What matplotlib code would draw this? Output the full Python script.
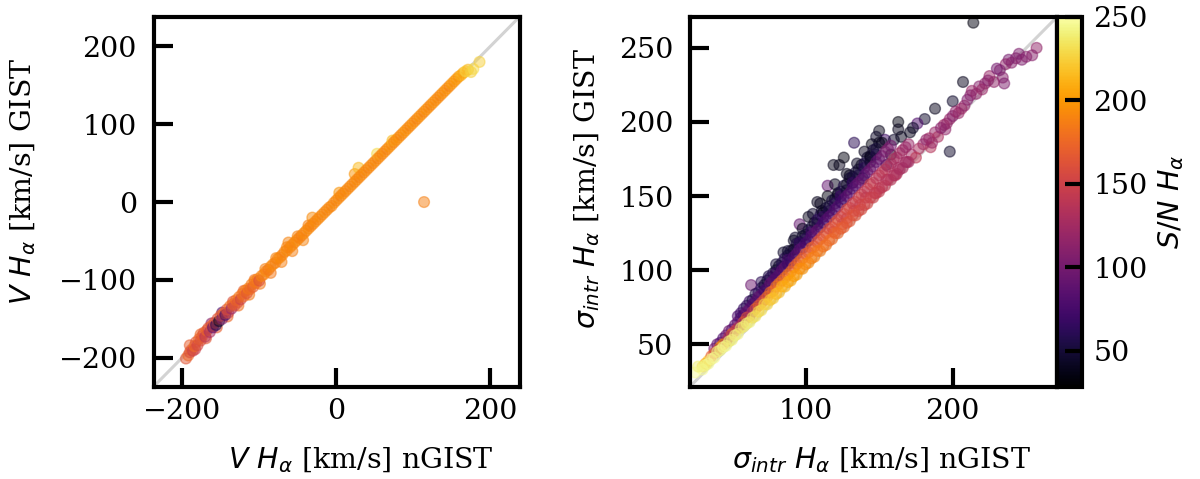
import numpy as np
import matplotlib
matplotlib.use('Agg')
import matplotlib.pyplot as plt
from matplotlib.colors import Normalize

plt.rcParams['font.family'] = ['DejaVu Serif']
plt.rcParams['mathtext.fontset'] = 'dejavusans'

# ---- left panel: V Halpha (nGIST vs GIST), colour = S/N
v_ngist = [-195, -192, -190, -188, -186, -184, -182, -180, -178, -176, -174, -172, -170, -168, -166,
           -164, -162, -160, -158, -156, -154, -152, -150, -148, -146, -144, -142, -140, -138, -136,
           -134, -132, -130, -128, -126, -124, -122, -120, -118, -116, -114, -112, -110, -108, -106,
           -104, -102, -100,
           -97, -94, -91, -88, -85, -82, -79, -76, -73, -70, -67, -64, -62, -60, -57, -54, -51, -48,
           -45, -42, -39, -36, -33, -31, -30, -27, -24, -21, -18, -15, -12, -9, -6, -3, 0, 3, 4, 6,
           9, 12, 15, 18, 21, 24, 24, 27, 29, 30, 33, 36, 39, 42, 45, 48, 51, 53, 54, 57, 60,
           63, 66, 69, 72, 73, 75, 78, 81, 84, 87, 90, 93, 96, 99, 102, 105, 108, 111, 114, 114,
           117, 120, 123, 126, 129, 132, 135, 138, 141, 144, 147, 150, 153, 156, 159, 162, 165,
           168, 171, 175, 178, 186]
v_gist = [-201, -197, -193, -190, -191, -185, -180, -184, -176, -178, -172, -168, -173, -165, -162,
          -167, -159, -161, -155, -158, -150, -153, -146, -150, -143, -145, -138, -142, -134, -137,
          -131, -133, -126, -129, -122, -125, -118, -121, -114, -117, -111, -112, -106, -109, -102,
          -104, -99, -101,
          -95, -93, -89, -87, -83, -80, -78, -73, -71, -68, -64, -62, -52, -58, -55, -52, -49, -46,
          -43, -40, -37, -34, -31, -20, -28, -25, -22, -19, -16, -13, -10, -7, -5, -1, 2, 5, 12, 8,
          11, 14, 17, 20, 23, 36, 26, 29, 44, 32, 35, 38, 41, 44, 47, 50, 53, 62, 56, 59, 62,
          65, 68, 71, 74, 79, 77, 80, 83, 86, 89, 92, 95, 98, 101, 104, 107, 110, 113, 116, 0,
          119, 122, 125, 128, 131, 134, 137, 140, 143, 146, 149, 152, 155, 158, 161, 163, 166,
          168, 170, 167, 171, 180]
v_sn = [165, 175, 160, 170, 150, 178, 165, 155, 175, 160, 170, 165, 140, 175, 160,
        130, 170, 90, 165, 60, 160, 45, 170, 110, 175, 75, 165, 150, 180, 120,
        175, 160, 180, 165, 185, 150, 180, 175, 185, 165, 188, 175, 185, 170, 188,
        180, 188, 160,
        190, 188, 192, 185, 190, 193, 188, 190, 193, 190, 188, 193, 190, 190, 193, 190, 193, 190,
        188, 193, 190, 193, 190, 193, 190, 193, 190, 193, 190, 193, 190, 193, 190, 193, 190, 193, 198, 190,
        193, 190, 193, 190, 193, 198, 190, 193, 215, 190, 193, 190, 193, 190, 193, 190, 193, 230, 190, 193, 190,
        193, 190, 196, 193, 215, 190, 193, 196, 190, 193, 196, 193, 190, 196, 193, 190, 196, 193, 190, 188,
        196, 193, 190, 196, 193, 193, 190, 196, 193, 196, 190, 200, 196, 200, 198, 210, 205,
        225, 215, 225, 230, 225]
# off-line points that thicken the lower half of the relation
v2_ngist = [-190, -183, -176, -169, -162, -155, -148, -141, -134, -127, -120, -113, -106, -99, -92,
            -85, -78, -71, -64, -57, -50, -43, -36]
v2_gist = [-184, -189, -170, -175, -156, -161, -142, -147, -128, -133, -114, -119, -100, -105, -86,
           -91, -72, -77, -58, -63, -44, -49, -30]
v2_sn = [170, 150, 175, 165, 110, 170, 80, 175, 160, 180, 170, 185, 180, 185, 188, 185, 190, 188, 190,
         188, 190, 190, 188]

# ---- right panel: sigma_intr Halpha, colour = S/N
# lower edge (high S/N)
sa_x = [30, 34, 38, 42, 46, 50, 54, 58, 62, 66, 70, 74, 78, 82, 86, 90, 94, 98, 102, 106, 110, 114,
        118, 122, 126, 130, 134, 138, 142, 146, 150, 154, 158, 162, 166, 170, 25, 27]
sa_y = [33, 37, 41, 46, 49, 53, 57, 62, 65, 69, 73, 77, 81, 85, 89, 93, 97, 101, 105, 109, 113, 117,
        121, 125, 129, 133, 137, 141, 145, 149, 153, 157, 161, 165, 169, 173, 31, 35]
sa_sn = [246, 244, 247, 242, 245, 240, 243, 238, 240, 235, 232, 228, 224, 218, 214, 208, 204, 198, 194,
         190, 186, 182, 178, 174, 170, 166, 162, 158, 154, 150, 146, 142, 138, 134, 130, 126, 248, 240]
sa2_x = [32, 36, 40, 44, 48, 52, 56, 60, 64, 68, 72, 76, 80, 84, 88, 92, 96, 100, 104, 108, 112, 116,
         120, 124, 128, 132, 136, 140, 144, 148, 152, 156, 160, 164, 168]
sa2_y = [36, 40, 45, 48, 52, 56, 61, 64, 68, 72, 77, 80, 84, 89, 92, 96, 101, 104, 108, 113, 116, 120,
         125, 128, 132, 137, 140, 144, 149, 152, 156, 161, 164, 168, 173]
sa2_sn = [243, 245, 241, 244, 239, 241, 237, 239, 233, 230, 226, 221, 216, 211, 206, 201, 196, 192, 188,
          184, 180, 176, 172, 168, 164, 160, 156, 152, 148, 144, 140, 136, 132, 128, 124]
# second row
sb_x = [30, 34, 38, 42, 46, 50, 54, 58, 62, 66, 70, 74, 78, 82, 86, 90, 94, 98, 102, 106, 110, 114,
        118, 122, 126, 130, 134, 138, 142, 146, 150, 154, 158, 162, 166, 170]
sb_y = [35, 39, 44, 48, 52, 57, 61, 65, 69, 74, 78, 82, 86, 91, 95, 99, 104, 108, 112, 116, 121, 125,
        129, 134, 138, 142, 146, 151, 155, 159, 164, 168, 172, 176, 181, 185]
sb_sn = [230, 220, 160, 200, 120, 180, 140, 170, 110, 175, 150, 180, 170, 185, 175, 180, 170, 175, 165,
         170, 160, 165, 155, 160, 150, 155, 145, 150, 140, 145, 135, 140, 130, 130, 125, 120]
sb2_x = [32, 36, 40, 44, 48, 52, 56, 60, 64, 68, 72, 76, 80, 84, 88, 92, 96, 100, 104, 108, 112, 116,
         120, 124, 128, 132, 136, 140, 144, 148, 152, 156, 160, 164, 168]
sb2_y = [37, 42, 46, 50, 55, 59, 63, 68, 72, 76, 80, 85, 89, 93, 97, 102, 106, 111, 115, 119, 123, 128,
         132, 136, 141, 145, 149, 153, 158, 162, 166, 170, 175, 179, 183]
sb2_sn = [210, 170, 140, 190, 130, 150, 120, 160, 130, 170, 160, 175, 180, 178, 182, 172, 176, 168, 172,
          162, 166, 158, 162, 152, 156, 148, 150, 142, 146, 138, 140, 132, 128, 125, 120]
# purple band
sc_x = [38, 42, 46, 50, 54, 58, 62, 66, 70, 74, 78, 82, 86, 90, 94, 98, 102, 106, 110, 114, 118, 122,
        126, 130, 134, 138, 142, 146, 150, 154, 158]
sc_y = [47, 51, 56, 60, 65, 70, 74, 79, 83, 88, 93, 97, 102, 106, 111, 115, 120, 125, 129, 134, 138,
        143, 148, 152, 157, 161, 166, 170, 175, 180, 184]
sc_sn = [100, 85, 95, 80, 90, 75, 85, 80, 90, 75, 85, 80, 90, 70, 85, 80, 75, 85, 70, 80, 75, 85, 80,
         90, 85, 95, 90, 100, 95, 105, 100]
sc2_x = [40, 44, 48, 52, 56, 60, 64, 68, 72, 76, 80, 84, 88, 92, 96, 100, 104, 108, 112, 116, 120, 124,
         128, 132, 136, 140, 144, 148, 152, 156]
sc2_y = [50, 54, 59, 63, 68, 72, 77, 82, 86, 91, 95, 100, 104, 109, 114, 118, 123, 127, 132, 136, 141,
         146, 150, 155, 159, 164, 168, 173, 177, 182]
sc2_sn = [90, 80, 95, 85, 75, 90, 80, 85, 75, 90, 80, 85, 70, 80, 85, 75, 80, 90, 75, 85, 80, 70, 85,
          80, 90, 85, 95, 90, 100, 105]
# between purple and dark band
scd_x = [80, 84, 88, 92, 96, 100, 104, 108, 112, 116, 120, 124, 128, 132, 136, 140, 144, 148]
scd_y = [98, 102, 107, 112, 118, 121, 126, 131, 136, 140, 145, 150, 154, 159, 164, 169, 173, 178]
scd_sn = [70, 60, 75, 55, 65, 60, 70, 50, 65, 55, 60, 70, 50, 65, 55, 60, 45, 55]
# dark upper band
sd_x = [54, 58, 62, 66, 70, 74, 78, 82, 86, 90, 94, 98, 102, 106, 110, 114, 118, 122, 126, 130, 134,
        138, 142, 146, 150]
sd_y = [69, 74, 79, 84, 88, 93, 98, 103, 108, 113, 118, 123, 127, 132, 137, 142, 147, 152, 157, 162,
        166, 171, 176, 181, 186]
sd_sn = [80, 65, 70, 55, 60, 50, 55, 45, 60, 50, 55, 45, 50, 40, 55, 45, 50, 40, 55, 45, 50, 40, 45,
         50, 40]
sd2_x = [56, 60, 64, 68, 72, 76, 80, 84, 88, 92, 96, 100, 104, 108, 112, 116, 120, 124, 128, 132, 136,
         140, 144, 148]
sd2_y = [71, 76, 80, 85, 90, 95, 100, 105, 110, 114, 119, 124, 129, 134, 139, 143, 148, 153, 158, 163,
         168, 172, 177, 182]
sd2_sn = [70, 60, 55, 65, 50, 60, 45, 55, 50, 40, 55, 45, 50, 60, 40, 50, 45, 55, 40, 50, 45, 55, 40, 50]
# scattered points above the relation
se_x = [214, 188, 181, 176, 173, 171, 163, 163, 150, 154, 133, 123, 119, 126, 144, 158, 155, 130, 139,
        132, 115, 122, 108, 111, 96, 102, 93, 88, 63, 198, 207, 200,
        110, 115, 120, 128, 135, 140, 145, 105, 98, 92, 85, 80, 75, 70, 148, 152, 160, 165]
se_y = [267, 209, 202, 199, 196, 193, 200, 195, 194, 188, 186, 171, 171, 176, 176, 178, 171, 164, 162,
        159, 157, 151, 146, 140, 131, 136, 122, 113, 90, 180, 227, 214,
        145, 150, 158, 165, 172, 180, 185, 138, 128, 120, 112, 104, 96, 92, 190, 186, 188, 190]
se_sn = [35, 40, 45, 80, 45, 40, 35, 40, 38, 70, 60, 40, 38, 35, 45, 35, 60, 40, 50, 85, 90, 40, 40,
         45, 90, 40, 45, 45, 95, 45, 40, 45,
         40, 35, 40, 38, 42, 40, 35, 45, 40, 42, 45, 50, 55, 60, 45, 38, 45, 40]
# upper right branch
sf_x = [257, 254, 247, 243, 238, 236, 234, 235, 225, 222, 218, 213, 206, 202, 198, 194, 195, 188, 184,
        180, 177, 172, 169, 163, 161, 155, 150, 147, 141, 137, 133, 128, 125, 119, 230, 210, 190, 185, 175,
        182, 186, 192, 196, 200, 204, 208, 212, 216, 220, 224, 228, 232, 240, 245, 250]
sf_y = [250, 245, 242, 243, 242, 239, 230, 226, 231, 226, 224, 221, 209, 207, 202, 198, 195, 193, 189,
        185, 182, 178, 173, 169, 164, 161, 155, 152, 149, 144, 140, 135, 131, 126, 236, 215, 190, 183, 176,
        188, 186, 196, 199, 204, 206, 211, 218, 219, 222, 228, 227, 235, 240, 246, 244]
sf_sn = [115, 110, 105, 110, 100, 115, 110, 105, 120, 115, 110, 120, 125, 115, 120, 125, 115, 120, 125,
         120, 130, 125, 130, 125, 135, 130, 135, 140, 135, 140, 145, 150, 155, 160, 100, 105, 130, 135, 140,
         115, 120, 110, 115, 110, 120, 115, 110, 115, 120, 110, 115, 105, 110, 105, 110]

sig_ngist = se_x + sd_x + sd2_x + scd_x + sc_x + sc2_x + sf_x + sb_x + sb2_x + sa_x + sa2_x
sig_gist = se_y + sd_y + sd2_y + scd_y + sc_y + sc2_y + sf_y + sb_y + sb2_y + sa_y + sa2_y
sig_sn = se_sn + sd_sn + sd2_sn + scd_sn + sc_sn + sc2_sn + sf_sn + sb_sn + sb2_sn + sa_sn + sa2_sn

norm = Normalize(vmin=28.4, vmax=250)
cmap = 'inferno'
fs = 20.5

fig = plt.figure(figsize=(12, 4.79), dpi=100)
ax1 = fig.add_axes([0.128, 0.193, 0.305, 0.772])
ax2 = fig.add_axes([0.575, 0.193, 0.306, 0.772])
cax = fig.add_axes([0.881, 0.193, 0.021, 0.772])

lim1 = (-237, 238)
ax1.plot(lim1, lim1, color='#d3d3d3', lw=2.2, zorder=0)
ax1.scatter(v2_ngist + v_ngist, v2_gist + v_gist, c=v2_sn + v_sn, cmap=cmap, norm=norm, s=60, alpha=0.5)
ax1.set_xlim(lim1)
ax1.set_ylim(lim1)
ax1.set_xticks([-200, 0, 200])
ax1.set_yticks([-200, -100, 0, 100, 200])
ax1.set_xlabel(r'$V\ H_\alpha$ [km/s] nGIST', fontsize=fs)
ax1.set_ylabel(r'$V\ H_\alpha$ [km/s] GIST', fontsize=fs)
ax1.xaxis.set_label_coords(0.566, -0.16)
ax1.yaxis.set_label_coords(-0.315, 0.554)

lim2 = (21.5, 271)
ax2.plot(lim2, lim2, color='#d3d3d3', lw=2.2, zorder=0)
sc = ax2.scatter(sig_ngist, sig_gist, c=sig_sn, cmap=cmap, norm=norm, s=60, alpha=0.5)
ax2.set_xlim(lim2)
ax2.set_ylim(lim2)
ax2.set_xticks([100, 200])
ax2.set_yticks([50, 100, 150, 200, 250])
ax2.set_xlabel(r'$\sigma_{intr}\ H_\alpha$ [km/s] nGIST', fontsize=fs)
ax2.set_ylabel(r'$\sigma_{intr}\ H_\alpha$ [km/s] GIST', fontsize=fs)
ax2.xaxis.set_label_coords(0.523, -0.16)
ax2.yaxis.set_label_coords(-0.24, 0.535)

for ax in (ax1, ax2):
    for sp in ax.spines.values():
        sp.set_linewidth(3)
    ax.tick_params(direction='in', length=13.5, width=3, labelsize=fs)
    ax.tick_params(axis='y', pad=12)
    ax.tick_params(axis='x', pad=8)

cb = fig.colorbar(sc, cax=cax)
cb.solids.set_alpha(1)
cb.set_ticks([50, 100, 150, 200, 250])
cb.outline.set_linewidth(3)
cb.ax.tick_params(direction='in', length=12.5, width=3, labelsize=fs, pad=8)
cb.set_label(r'$S/N\ H_\alpha$', fontsize=fs, labelpad=6)

fig.savefig('out.png', dpi=100)
